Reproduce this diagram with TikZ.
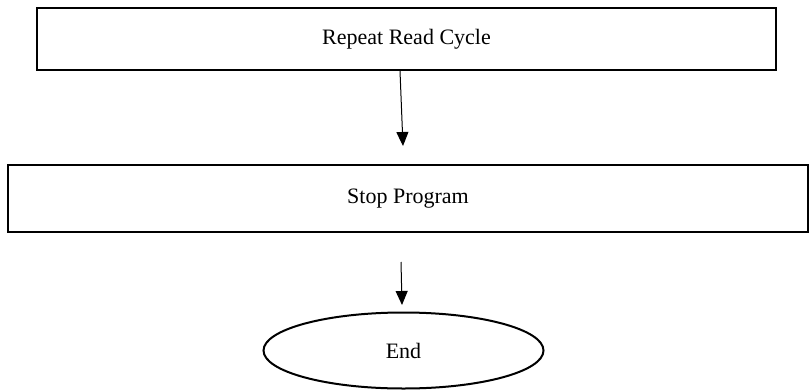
\documentclass[tikz,border=0pt]{standalone}
\usepackage{fontspec}
\setmainfont{Liberation Serif}
\usetikzlibrary{arrows.meta,shapes.geometric}

\begin{document}
\begin{tikzpicture}[x=0.5pt, y=-0.5pt, font=\fontsize{11}{13}\selectfont,
  >={Triangle[width=6pt,length=7pt]}]

\useasboundingbox (0,0) rectangle (812,390);

\tikzset{
  stepbox/.style={draw, line width=1pt, rectangle, inner sep=0pt},
  endcap/.style={draw, line width=1pt, ellipse, inner sep=0pt,
    minimum width=140pt, minimum height=38pt},
  flow/.style={->, line width=0.5pt}
}

%--- Блоки ---
\node[stepbox, minimum width=369.5pt, minimum height=31pt] (repeat) at (406.5,39) {Repeat Read Cycle};
\node[stepbox, minimum width=400pt, minimum height=33.5pt] (stop) at (408,198.5) {Stop Program};
\node[endcap] (finish) at (403.5,350.5) {End};

%--- Стрелки ---
\coordinate (tipA) at (403,146);
\coordinate (tailB) at (401,262);
\coordinate (tipB) at (402,305);

\draw[flow] (repeat.south -| 400,0) -- (tipA);
\draw[flow] (tailB) -- (tipB);

\end{tikzpicture}
\end{document}
